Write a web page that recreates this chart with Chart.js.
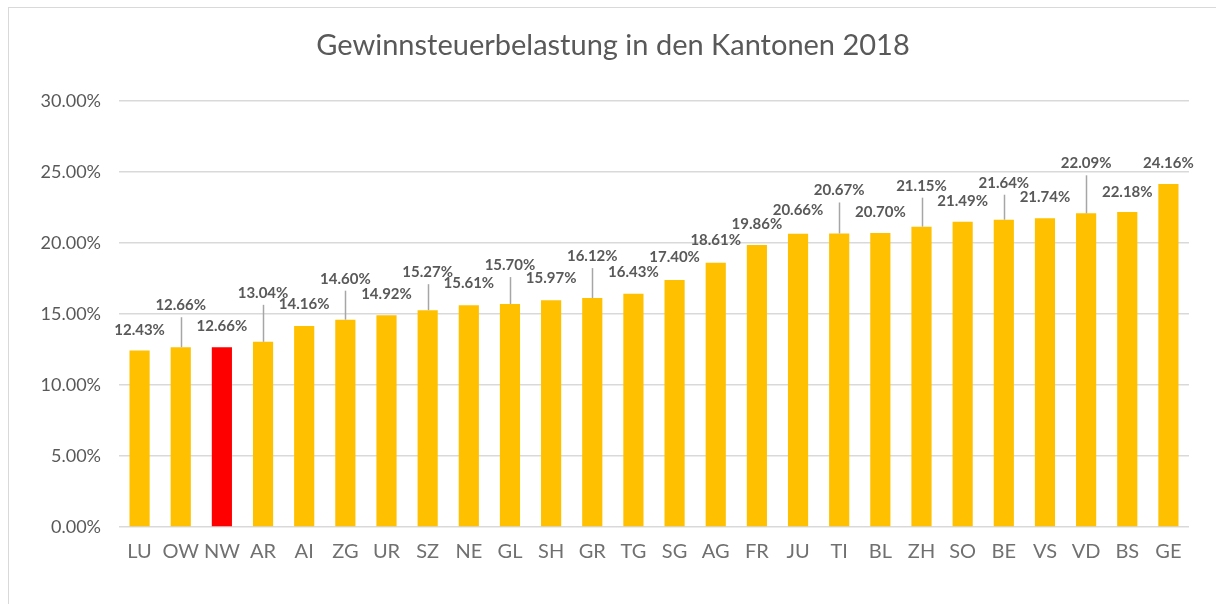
<!DOCTYPE html>
<html>
<head>
<meta charset="utf-8">
<script src="https://cdn.jsdelivr.net/npm/chart.js@4/dist/chart.umd.min.js"></script>
<style>
  html, body { margin: 0; padding: 0; background: #fff; overflow: hidden; }
  #frame { position: absolute; left: 8px; top: 7px; width: 1300px; height: 700px; border: 1px solid #D9D9D9; }
  #wrap { position: absolute; left: 0; top: 0; width: 1216px; height: 604px; }
</style>
</head>
<body>
<div id="frame"></div>
<div id="wrap"><canvas id="chart" width="1216" height="604"></canvas></div>
<script>
// cantons, sorted by tax burden
const cantons = ['LU', 'OW', 'NW', 'AR', 'AI', 'ZG', 'UR', 'SZ', 'NE', 'GL', 'SH', 'GR', 'TG',
                 'SG', 'AG', 'FR', 'JU', 'TI', 'BL', 'ZH', 'SO', 'BE', 'VS', 'VD', 'BS', 'GE']
// profit tax burden in percent
const burden = [12.43, 12.66, 12.66, 13.04, 14.16, 14.60, 14.92, 15.27, 15.61, 15.70, 15.97, 16.12, 16.43,
                17.40, 18.61, 19.86, 20.66, 20.67, 20.70, 21.15, 21.49, 21.64, 21.74, 22.09, 22.18, 24.16]
const yTicks = [0, 5, 10, 15, 20, 25, 30]
const titleText = 'Gewinnsteuerbelastung in den Kantonen 2018'

// how far (px) each label sits above its bar, long ones get a leader line
const labelLift = [20, 42, 21, 49, 22, 41, 21, 38, 22, 39, 22, 42, 22,
                   23, 23, 21, 23, 43, 21, 41, 21, 37, 21, 50, 20, 21]

const gray = '#595959'
const font = 'Lato, "Open Sans", sans-serif'

// title centred on the chart frame rather than the padded canvas
const frameTitle = {
  id: 'frameTitle',
  afterDraw(chart) {
    const ctx = chart.ctx
    ctx.save()
    ctx.font = '29px ' + font
    ctx.fillStyle = gray
    ctx.textAlign = 'center'
    ctx.textBaseline = 'middle'
    ctx.fillText(titleText, 613, 46)
    ctx.restore()
  }
}

const barLabels = {
  id: 'barLabels',
  afterDatasetsDraw(chart) {
    const ctx = chart.ctx
    const meta = chart.getDatasetMeta(0)
    ctx.save()
    ctx.font = 'bold 15px ' + font
    ctx.textAlign = 'center'
    ctx.textBaseline = 'middle'
    meta.data.forEach((bar, i) => {
      const ly = bar.y - labelLift[i]
      if (labelLift[i] > 30) {
        ctx.strokeStyle = '#A6A6A6'
        ctx.lineWidth = 1.5
        ctx.beginPath()
        ctx.moveTo(Math.round(bar.x) + 0.5, ly + 12)
        ctx.lineTo(Math.round(bar.x) + 0.5, bar.y)
        ctx.stroke()
      }
      ctx.fillStyle = gray
      ctx.fillText(burden[i].toFixed(2) + '%', bar.x, ly)
    })
    ctx.restore()
  }
}

new Chart(document.getElementById('chart'), {
  type: 'bar',
  data: {
    labels: cantons,
    datasets: [{
      data: burden,
      backgroundColor: cantons.map(c => c === 'NW' ? '#FF0000' : '#FFC000'),
      barPercentage: 0.49,
      categoryPercentage: 1
    }]
  },
  options: {
    responsive: false,
    animation: false,
    layout: { padding: { left: 0, right: 27, top: 101, bottom: 0 } },
    plugins: {
      legend: { display: false },
      tooltip: { enabled: false },
      title: { display: false }
    },
    scales: {
      x: {
        grid: { display: false, drawTicks: false },
        border: { display: false },
        ticks: { color: '#707070', font: { family: font, size: 20 }, padding: 13, maxRotation: 0, autoSkip: false },
        afterFit(scale) { scale.height = 77 }
      },
      y: {
        min: 0,
        max: 30,
        afterBuildTicks(scale) { scale.ticks = yTicks.map(v => ({ value: v })) },
        grid: { color: '#D9D9D9', lineWidth: 1.5, drawTicks: false },
        border: { display: false },
        ticks: {
          color: gray,
          font: { family: font, size: 18 },
          padding: 18,
          callback: v => v.toFixed(2) + '%'
        },
        afterFit(scale) { scale.width = 119 }
      }
    }
  },
  plugins: [barLabels, frameTitle]
})
</script>
</body>
</html>
